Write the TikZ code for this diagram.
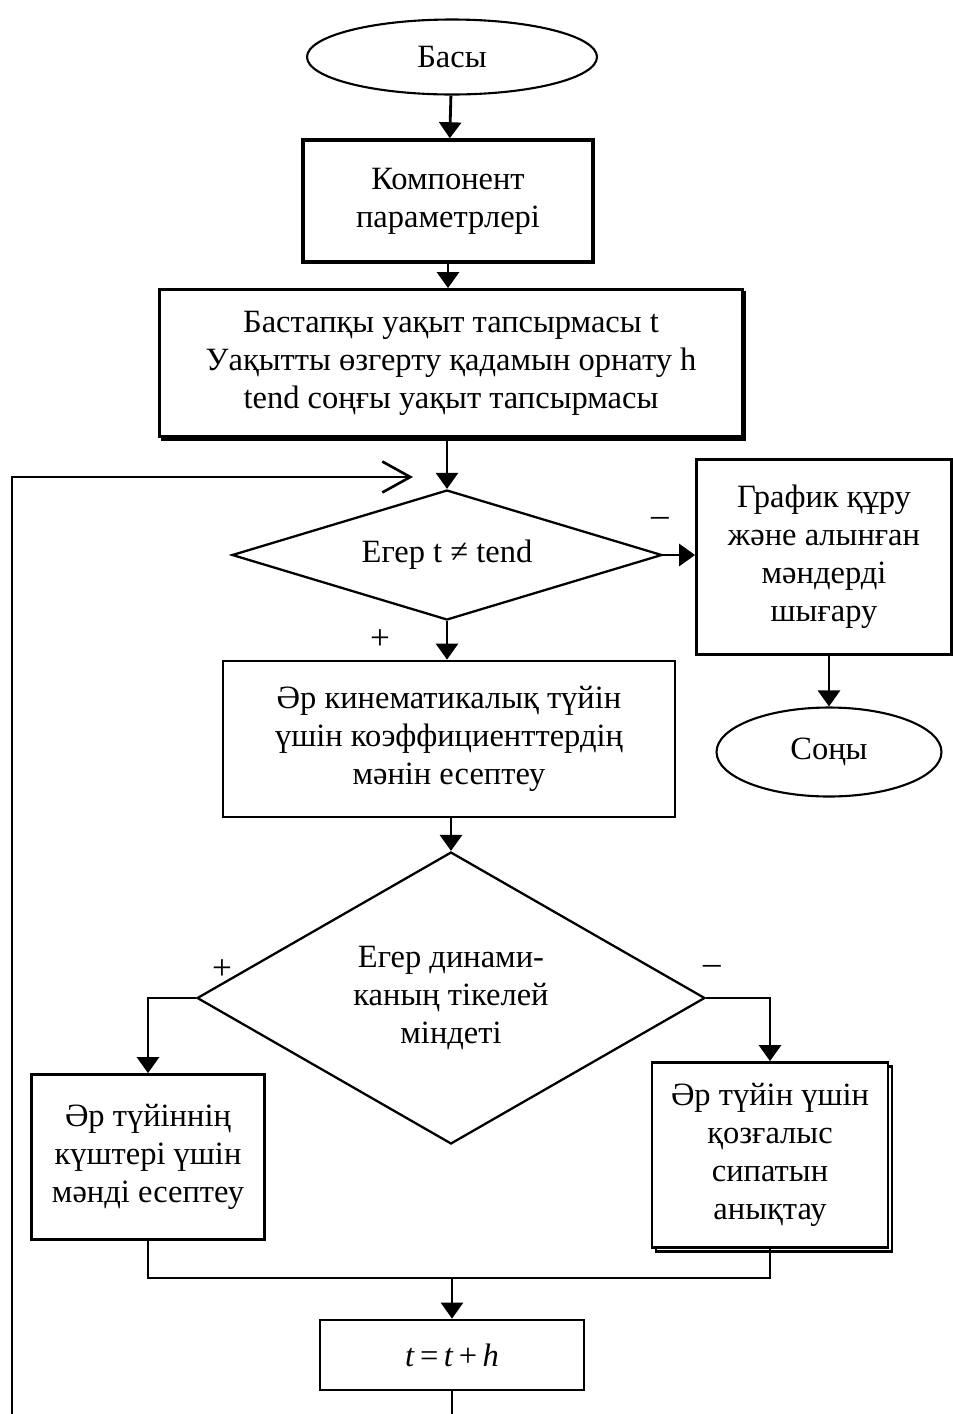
\documentclass[tikz,border=0pt]{standalone}
\usepackage{fontspec}
\setmainfont{Liberation Serif}
\usepackage{tikz}
\usetikzlibrary{arrows.meta, shapes.geometric, shadows}

\tikzset{
  blok/.style={draw, line width=1.6pt, rectangle, align=center, fill=white, inner sep=2pt},
  oval/.style={draw, line width=1.2pt, ellipse, inner sep=1pt},
  romb/.style={draw, line width=1.3pt, diamond, align=center, inner sep=0pt},
  strelka/.style={line width=1.6pt, -{Triangle[length=0.32cm, width=0.44cm]}},
  liniya/.style={line width=1.6pt},
  znak/.style={font=\fontsize{20}{20}\selectfont}
}

\begin{document}
\begin{tikzpicture}[x=0.02cm, y=-0.02cm, font=\fontsize{18.5}{21.6}\selectfont]
\useasboundingbox (0,0) rectangle (953,1414);

\node[oval, minimum width=5.8cm, minimum height=1.5cm] (basy) at (452,57) {Басы};
\node[blok, line width=2pt, minimum width=5.8cm, minimum height=2.44cm] (komp) at (448,201) {Компонент\\параметрлері};
\node[blok, minimum width=11.66cm, minimum height=2.94cm,
      copy shadow={shadow xshift=0.05cm, shadow yshift=-0.06cm}] (bastapky) at (451,363) {Бастапқы уақыт тапсырмасы t\\Уақытты өзгерту қадамын орнату h\\tend соңғы уақыт тапсырмасы};
\node[romb, aspect=3.3, minimum width=8.6cm, minimum height=2.6cm] (eger1) at (447,555) {Егер t ≠ tend};
\node[blok, minimum width=5.1cm, minimum height=3.9cm] (grafik) at (824,557) {График құру\\және алынған\\мәндерді\\шығару};
\node[oval, minimum width=4.5cm, minimum height=1.78cm] (sony) at (829,752) {Соңы};
\node[blok, minimum width=9.04cm, minimum height=3.12cm] (kinem) at (449,739) {Әр кинематикалық түйін\\үшін коэффициенттердің\\мәнін есептеу};
\node[romb, aspect=1.74, minimum width=10.16cm, minimum height=5.84cm] (eger2) at (451,998) {Егер динами-\\каның тікелей\\міндеті};
\node[blok, minimum width=4.66cm, minimum height=3.3cm] (kush) at (148,1157) {Әр түйіннің\\күштері үшін\\мәнді есептеу};
\node[blok, minimum width=4.72cm, minimum height=3.7cm,
      copy shadow={shadow xshift=0.08cm, shadow yshift=-0.08cm}] (qozgalys) at (770,1155) {Әр түйін үшін\\қозғалыс\\сипатын\\анықтау};
\node[blok, minimum width=5.28cm, minimum height=1.4cm] (qadam) at (452,1355) {\textit{t}\,=\,\textit{t}\,+\,\textit{h}};

\node[znak] (minus1) at (660,522) {–};
\node[znak] (plus1) at (380,640) {+};
\node[znak] (plus2) at (222,970) {+};
\node[znak] (minus2) at (712,970) {–};

\coordinate (tomen) at (452,1414);
\coordinate (sol) at (12,1414);
\coordinate (soljogary) at (12,477);
\coordinate (kiru) at (413,477);
\coordinate (biriktiru) at (452,1278);

\draw[strelka] (basy) -- (komp);
\draw[strelka] (komp.south) -- (komp.south |- bastapky.north);
\draw[strelka] (bastapky.south -| eger1.north) -- (eger1.north);
\draw[strelka] (eger1.east) -- (grafik.west |- eger1.east);
\draw[strelka] (grafik.south -| sony.north) -- (sony.north);
\draw[strelka] (eger1.south) -- (eger1.south |- kinem.north);
\draw[strelka] (kinem.south -| eger2.north) -- (eger2.north);
\draw[strelka] (eger2.west) -| (kush.north);
\draw[strelka] (eger2.east) -| (qozgalys.north);
\draw[liniya] (kush.south) |- (biriktiru) -| (qozgalys.south);
\draw[strelka] (biriktiru) -- (qadam.north);
\draw[liniya] (qadam.south) -- (tomen);
\draw[liniya, -{Straight Barb[length=0.56cm, width=0.62cm, line width=1.5pt]}] (sol) -- (soljogary) -- (kiru);
\end{tikzpicture}
\end{document}
